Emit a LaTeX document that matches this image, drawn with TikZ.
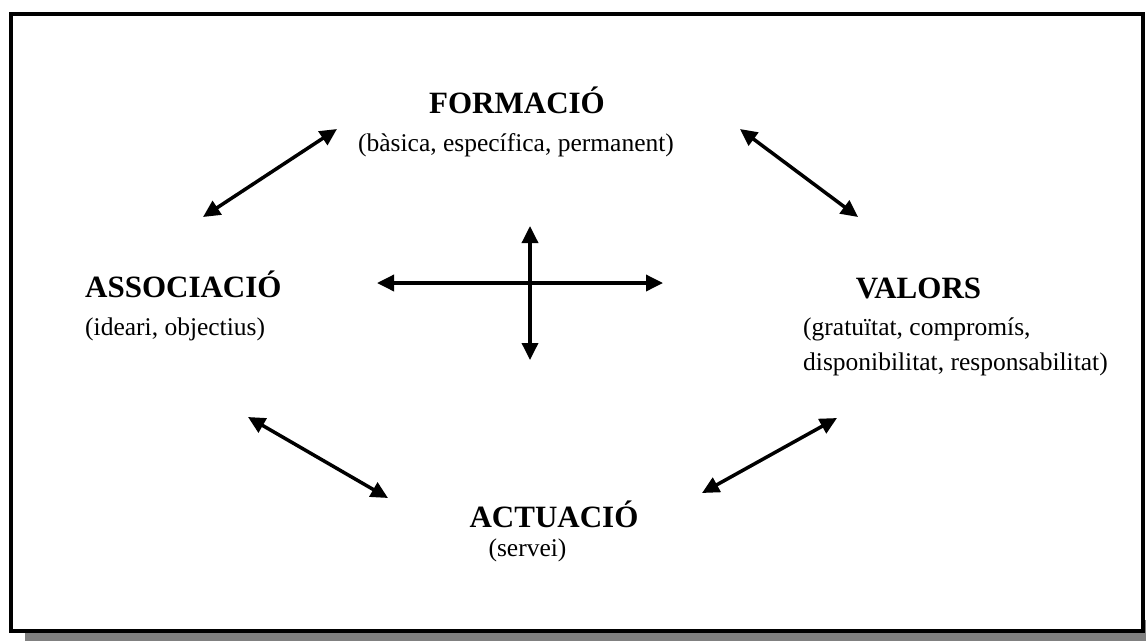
\documentclass[tikz,border=0pt]{standalone}
\usepackage{fontspec}
\setmainfont{Liberation Serif}
\usetikzlibrary{arrows.meta}
\definecolor{shadowgray}{RGB}{128,128,128}
\begin{document}
\begin{tikzpicture}[x=1pt,y=-1pt,
  title/.style={font=\fontsize{31}{37}\selectfont\bfseries, inner sep=0pt},
  sub/.style={font=\fontsize{25.5}{30}\selectfont, inner sep=0pt},
  dbl/.style={line width=3.5pt, {Triangle[length=17pt,width=16pt]}-{Triangle[length=17pt,width=16pt]}}]
\useasboundingbox (0,0) rectangle (1146,641);
% shadow and frame
\fill[shadowgray] (25,620) rectangle (1146,641);
\draw[line width=4.5pt, fill=white] (11,14) rectangle (1143,631);
% texts
\node[title, anchor=base] (form) at (517,113) {FORMACIÓ};
\node[sub, anchor=base] (formsub) at (516,151) {(bàsica, específica, permanent)};
\node[title, anchor=base west] (assoc) at (85,297) {ASSOCIACIÓ};
\node[sub, anchor=base west] (assocsub) at (85,335) {(ideari, objectius)};
\node[title, anchor=base] (val) at (918.5,298) {VALORS};
\node[sub, anchor=base west] (valsub1) at (803,335) {(gratuïtat, compromís,};
\node[sub, anchor=base west] (valsub2) at (803,370) {disponibilitat, responsabilitat)};
\node[title, anchor=base] (act) at (554,527) {ACTUACIÓ};
\node[sub, anchor=base] (actsub) at (527.5,556) {(servei)};
% arrow end points
\coordinate (a1s) at (203,217); \coordinate (a1e) at (337,129);
\coordinate (a2s) at (740,129); \coordinate (a2e) at (858,217);
\coordinate (a3s) at (248,417); \coordinate (a3e) at (388,498);
\coordinate (a4s) at (837,418); \coordinate (a4e) at (702,493);
\coordinate (hl) at (377,283); \coordinate (hr) at (663,283);
\coordinate (vt) at (530,226); \coordinate (vb) at (530,360);
\draw[dbl] (a1s) -- (a1e);
\draw[dbl] (a2s) -- (a2e);
\draw[dbl] (a3s) -- (a3e);
\draw[dbl] (a4s) -- (a4e);
\draw[dbl] (hl) -- (hr);
\draw[dbl] (vt) -- (vb);
\end{tikzpicture}
\end{document}
